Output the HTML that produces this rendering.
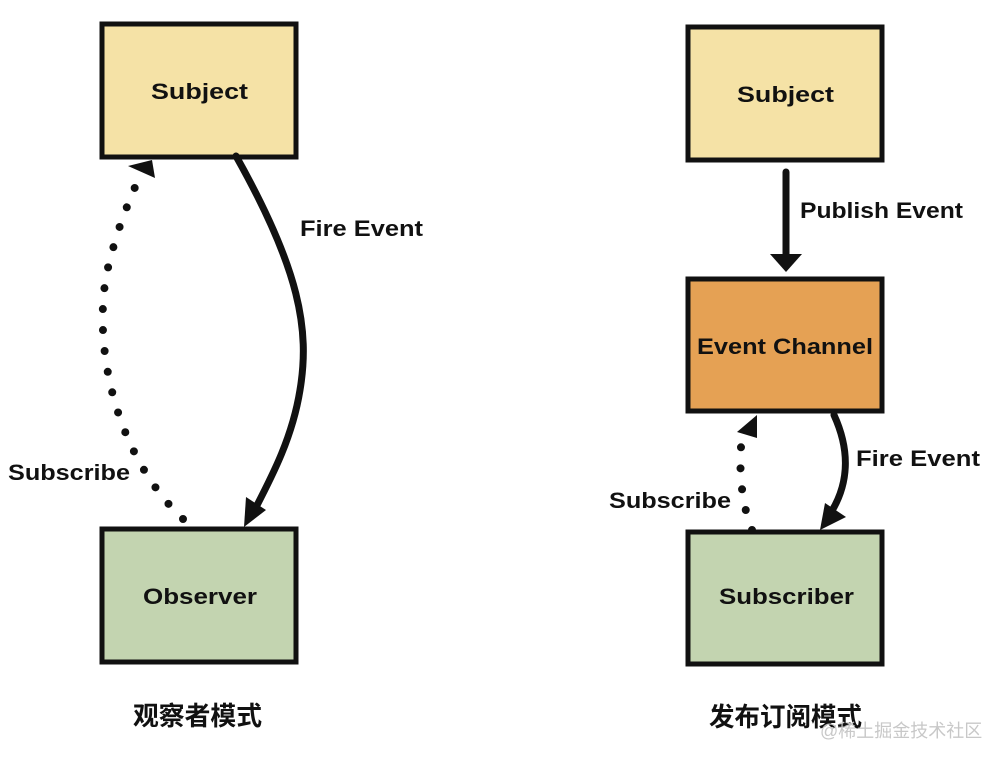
<!DOCTYPE html>
<html><head><meta charset="utf-8"><style>
body{margin:0;background:#fff;width:1002px;height:760px;overflow:hidden}
svg text{font-family:"Liberation Sans","Noto Sans CJK SC",sans-serif;font-weight:bold;fill:#111}
</style></head><body>
<svg width="1002" height="760" viewBox="0 0 1002 760">
<g stroke="#111" stroke-width="5">
<rect x="102" y="24" width="194" height="133" fill="#f5e2a6"/>
<rect x="102" y="529" width="194" height="133" fill="#c3d4b0"/>
<rect x="688" y="27" width="194" height="133" fill="#f5e2a6"/>
<rect x="688" y="279" width="194" height="132" fill="#e5a154"/>
<rect x="688" y="532" width="194" height="132" fill="#c3d4b0"/>
</g>
<g font-size="22">
<text x="151" y="99" textLength="97" lengthAdjust="spacingAndGlyphs">Subject</text>
<text x="143" y="604" textLength="114" lengthAdjust="spacingAndGlyphs">Observer</text>
<text x="737" y="102" textLength="97" lengthAdjust="spacingAndGlyphs">Subject</text>
<text x="697" y="354" textLength="176" lengthAdjust="spacingAndGlyphs">Event Channel</text>
<text x="719" y="604" textLength="135" lengthAdjust="spacingAndGlyphs">Subscriber</text>
</g>
<g font-size="22">
<text x="300" y="236" textLength="123" lengthAdjust="spacingAndGlyphs">Fire Event</text>
<text x="8" y="480" textLength="122" lengthAdjust="spacingAndGlyphs">Subscribe</text>
<text x="800" y="218" textLength="163" lengthAdjust="spacingAndGlyphs">Publish Event</text>
<text x="856" y="466" textLength="124" lengthAdjust="spacingAndGlyphs">Fire Event</text>
<text x="609" y="508" textLength="122" lengthAdjust="spacingAndGlyphs">Subscribe</text>
</g>
<g fill="none" stroke="#111" stroke-linecap="round">
<path d="M236 156 C300 270 310 330 300 390 C292 440 270 480 252 515" stroke-width="7"/>
<path d="M183 519 C110 450 90 330 110 260 C120 220 130 200 140 175" stroke-width="8" stroke-dasharray="0 21"/>
<path d="M786 172 L786 258" stroke-width="7"/>
<path d="M834 415 C850 450 850 485 828 517" stroke-width="7"/>
<path d="M752 530 C740 500 738 460 743 430" stroke-width="8" stroke-dasharray="0 21"/>
</g>
<g fill="#111">
<polygon points="244,527 246,497 266,510"/>
<polygon points="152,160 128,166 155,178"/>
<polygon points="786,272 770,254 802,254"/>
<polygon points="820,530 825,503 846,517"/>
<polygon points="757,415 737,432 757,438"/>
</g>
<g font-size="26" font-weight="normal">
<text x="133" y="725" textLength="129" lengthAdjust="spacingAndGlyphs">观察者模式</text>
<text x="709" y="726" textLength="153" lengthAdjust="spacingAndGlyphs">发布订阅模式</text>
</g>
<text x="820" y="737" font-size="18" font-weight="normal" style="fill:#c8c8c8;font-weight:normal">@稀土掘金技术社区</text>
</svg>
</body></html>
